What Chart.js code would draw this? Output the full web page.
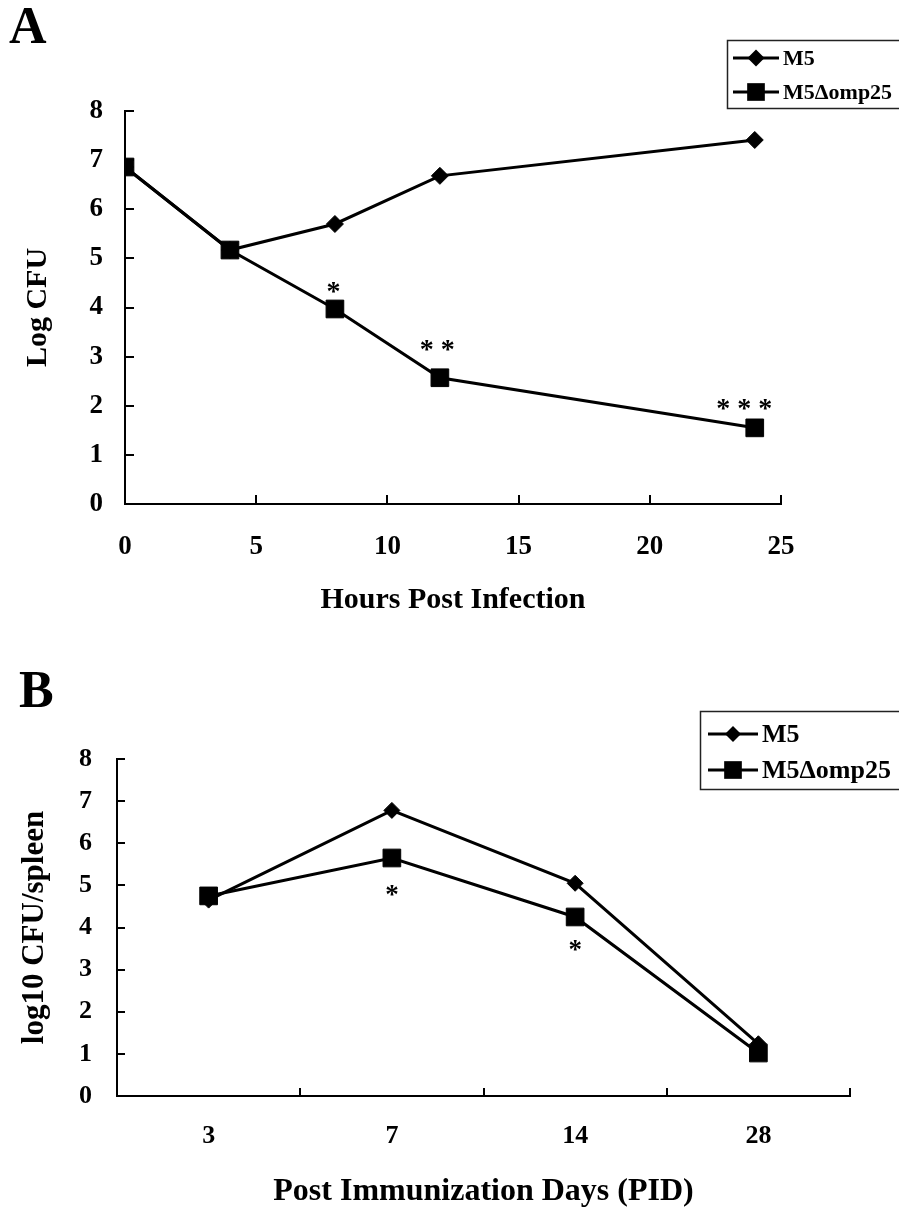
<!DOCTYPE html>
<html><head><meta charset="utf-8">
<script src="https://cdn.jsdelivr.net/npm/chart.js@4/dist/chart.umd.min.js"></script>
<style>
html,body{margin:0;padding:0;background:#fff;width:899px;height:1208px;overflow:hidden;}
.wrap{position:absolute;left:0;width:899px;}
#wa{top:0;height:630px;}
#wb{top:630px;height:578px;}
canvas{display:block;}
</style></head><body>
<div class="wrap" id="wa"><canvas id="ca"></canvas></div>
<div class="wrap" id="wb"><canvas id="cb"></canvas></div>
<script>
// ---------- DATA ----------
const seriesNames = ['M5', 'M5Δomp25'];

// Panel A
const hoursA = [0, 4, 8, 12, 24];
const m5A = [6.86, 5.17, 5.70, 6.68, 7.41];
const mutA = [6.86, 5.17, 3.97, 2.57, 1.55];
const sigAX = [7.95, 11.9, 23.6];
const sigAY = [4.46, 3.28, 2.08];
const sigAText = ['*', '* *', '* * *'];

// Panel B
const daysB = ['3', '7', '14', '28'];
const m5B = [4.65, 6.78, 5.05, 1.24];
const mutB = [4.75, 5.65, 4.25, 1.02];
const sigBX = [1, 2];
const sigBY = [4.94, 3.63];
const sigBText = ['*', '*'];

// ---------- HELPERS ----------
const FONT = "'Liberation Serif', 'Times New Roman', serif";

function drawMarker(ctx, style, x, y, r) {
  ctx.beginPath();
  if (style === 'rectRot') {
    ctx.moveTo(x - r, y); ctx.lineTo(x, y - r); ctx.lineTo(x + r, y); ctx.lineTo(x, y + r);
  } else {
    const s = r * Math.SQRT1_2;
    ctx.rect(x - s, y - s, 2 * s, 2 * s);
  }
  ctx.closePath();
  ctx.fill();
}

const figPlugin = {
  id: 'fig',
  afterDraw(chart, args, o) {
    const ctx = chart.ctx;
    const {left, right, top, bottom} = chart.chartArea;
    const xs = chart.scales.x, ys = chart.scales.y;
    ctx.save();
    ctx.strokeStyle = '#000';
    ctx.lineWidth = 2;
    // inward ticks on y
    ys.ticks.forEach(t => {
      const py = Math.round(ys.getPixelForValue(t.value));
      ctx.beginPath(); ctx.moveTo(left, py); ctx.lineTo(left + o.tickLen, py); ctx.stroke();
    });
    // inward ticks on x
    const xp = [];
    if (xs.type === 'category') {
      for (let i = 0; i < xs.ticks.length; i++) xp.push(xs.getPixelForValue(i + 0.5));
    } else {
      xs.ticks.forEach(t => { if (t.value !== xs.min) xp.push(xs.getPixelForValue(t.value)); });
    }
    xp.forEach(p => {
      const px = Math.round(p);
      ctx.beginPath(); ctx.moveTo(px, bottom); ctx.lineTo(px, bottom - o.tickLen); ctx.stroke();
    });
    // significance marks
    ctx.fillStyle = '#000';
    ctx.font = 'bold ' + o.sigSize + 'px ' + FONT;
    ctx.textAlign = 'center';
    ctx.textBaseline = 'alphabetic';
    o.sigX.forEach((v, i) => {
      const px = xs.getPixelForValue(v);
      const py = ys.getPixelForValue(o.sigY[i]);
      ctx.fillText(o.sigText[i], px, py + o.sigSize * 0.55);
    });
    // panel letter
    ctx.font = 'bold ' + o.panelSize + 'px ' + FONT;
    ctx.textAlign = 'left';
    ctx.fillText(o.panel, o.panelX, o.panelY);
    // legend
    const L = o.legend;
    ctx.lineWidth = 1.5;
    ctx.strokeStyle = '#222';
    ctx.strokeRect(L.x + 0.5, L.y + 0.5, L.w, L.h);
    ctx.font = 'bold ' + L.font + 'px ' + FONT;
    ctx.textBaseline = 'middle';
    chart.data.datasets.forEach((ds, i) => {
      const ry = L.rows[i];
      ctx.strokeStyle = '#000';
      ctx.lineWidth = ds.borderWidth;
      ctx.beginPath(); ctx.moveTo(L.s0, ry); ctx.lineTo(L.s1, ry); ctx.stroke();
      drawMarker(ctx, ds.pointStyle, (L.s0 + L.s1) / 2, ry, ds.pointRadius);
      ctx.fillText(ds.label, L.tx, ry + 1);
    });
    ctx.restore();
  }
};

function baseOptions(c) {
  return {
    responsive: true,
    maintainAspectRatio: false,
    animation: false,
    events: [],
    layout: {padding: c.pad},
    plugins: {legend: {display: false}, tooltip: {enabled: false}, fig: c.fig},
    scales: {
      x: Object.assign({
        grid: {display: true, drawOnChartArea: false, drawTicks: false},
        border: {display: true, color: '#000', width: 2},
        ticks: {color: '#000', font: {family: FONT, weight: 'bold', size: c.xTickSize}, padding: c.xTickPad, maxRotation: 0, autoSkip: false},
        title: {display: true, text: c.xTitle, color: '#000', font: {family: FONT, weight: 'bold', size: c.xTitleSize, lineHeight: c.xTitleLH}, padding: {top: 0, bottom: c.xTitlePad}},
        afterFit: s => { s.height = c.xHeight; }
      }, c.xExtra),
      y: {
        min: 0, max: 8,
        grid: {display: true, drawOnChartArea: false, drawTicks: false},
        border: {display: true, color: '#000', width: 2},
        ticks: {stepSize: 1, color: '#000', font: {family: FONT, weight: 'bold', size: c.yTickSize}, padding: c.yTickPad},
        title: {display: true, text: c.yTitle, color: '#000', font: {family: FONT, weight: 'bold', size: c.yTitleSize}, padding: {top: c.yTitlePad, bottom: 0}},
        afterFit: s => { s.width = c.yWidth; }
      }
    }
  };
}

function ds(label, data, style, radius, order) {
  return {label, data, borderColor: '#000', backgroundColor: '#000', borderWidth: 3,
    pointStyle: style, pointRadius: radius, pointBorderWidth: 1, pointBackgroundColor: '#000',
    pointBorderColor: '#000', tension: 0, order};
}

// ---------- CHART A ----------
new Chart(document.getElementById('ca'), {
  type: 'line',
  data: {
    datasets: [
      ds(seriesNames[0], hoursA.map((h, i) => ({x: h, y: m5A[i]})), 'rectRot', 8.5, 1),
      ds(seriesNames[1], hoursA.map((h, i) => ({x: h, y: mutA[i]})), 'rect', 12.5, 0)
    ]
  },
  options: baseOptions({
    pad: {left: 0, top: 111, right: 118, bottom: 0},
    xExtra: {type: 'linear', min: 0, max: 25, ticks: {stepSize: 5, color: '#000', font: {family: FONT, weight: 'bold', size: 27}, padding: 27, maxRotation: 0}},
    xTickSize: 27, xTickPad: 27,
    xTitle: 'Hours Post Infection', xTitleSize: 30, xTitleLH: 1.2, xTitlePad: 12, xHeight: 126,
    yTickSize: 27, yTickPad: 22,
    yTitle: 'Log CFU', yTitleSize: 30, yTitlePad: 20, yWidth: 125,
    fig: {tickLen: 9, sigX: sigAX, sigY: sigAY, sigText: sigAText, sigSize: 28,
      panel: 'A', panelSize: 52, panelX: 9, panelY: 43,
      legend: {x: 727, y: 40, w: 200, h: 68, rows: [58, 92], s0: 733, s1: 779, tx: 783, font: 22}}
  }),
  plugins: [figPlugin]
});

// ---------- CHART B ----------
new Chart(document.getElementById('cb'), {
  type: 'line',
  data: {
    labels: daysB,
    datasets: [
      ds(seriesNames[0], m5B, 'rectRot', 8, 1),
      ds(seriesNames[1], mutB, 'rect', 12.5, 0)
    ]
  },
  options: baseOptions({
    pad: {left: 0, top: 129, right: 49, bottom: 0},
    xExtra: {type: 'category', offset: true},
    xTickSize: 26, xTickPad: 25,
    xTitle: 'Post Immunization Days (PID)', xTitleSize: 32, xTitleLH: 1.0, xTitlePad: 0, xHeight: 112,
    yTickSize: 26, yTickPad: 25,
    yTitle: 'log10 CFU/spleen', yTitleSize: 31, yTitlePad: 16, yWidth: 117,
    fig: {tickLen: 8, sigX: sigBX, sigY: sigBY, sigText: sigBText, sigSize: 27,
      panel: 'B', panelSize: 52, panelX: 19, panelY: 77,
      legend: {x: 700, y: 81, w: 220, h: 78, rows: [104, 140], s0: 708, s1: 758, tx: 762, font: 26}}
  }),
  plugins: [figPlugin]
});
</script>
</body></html>
